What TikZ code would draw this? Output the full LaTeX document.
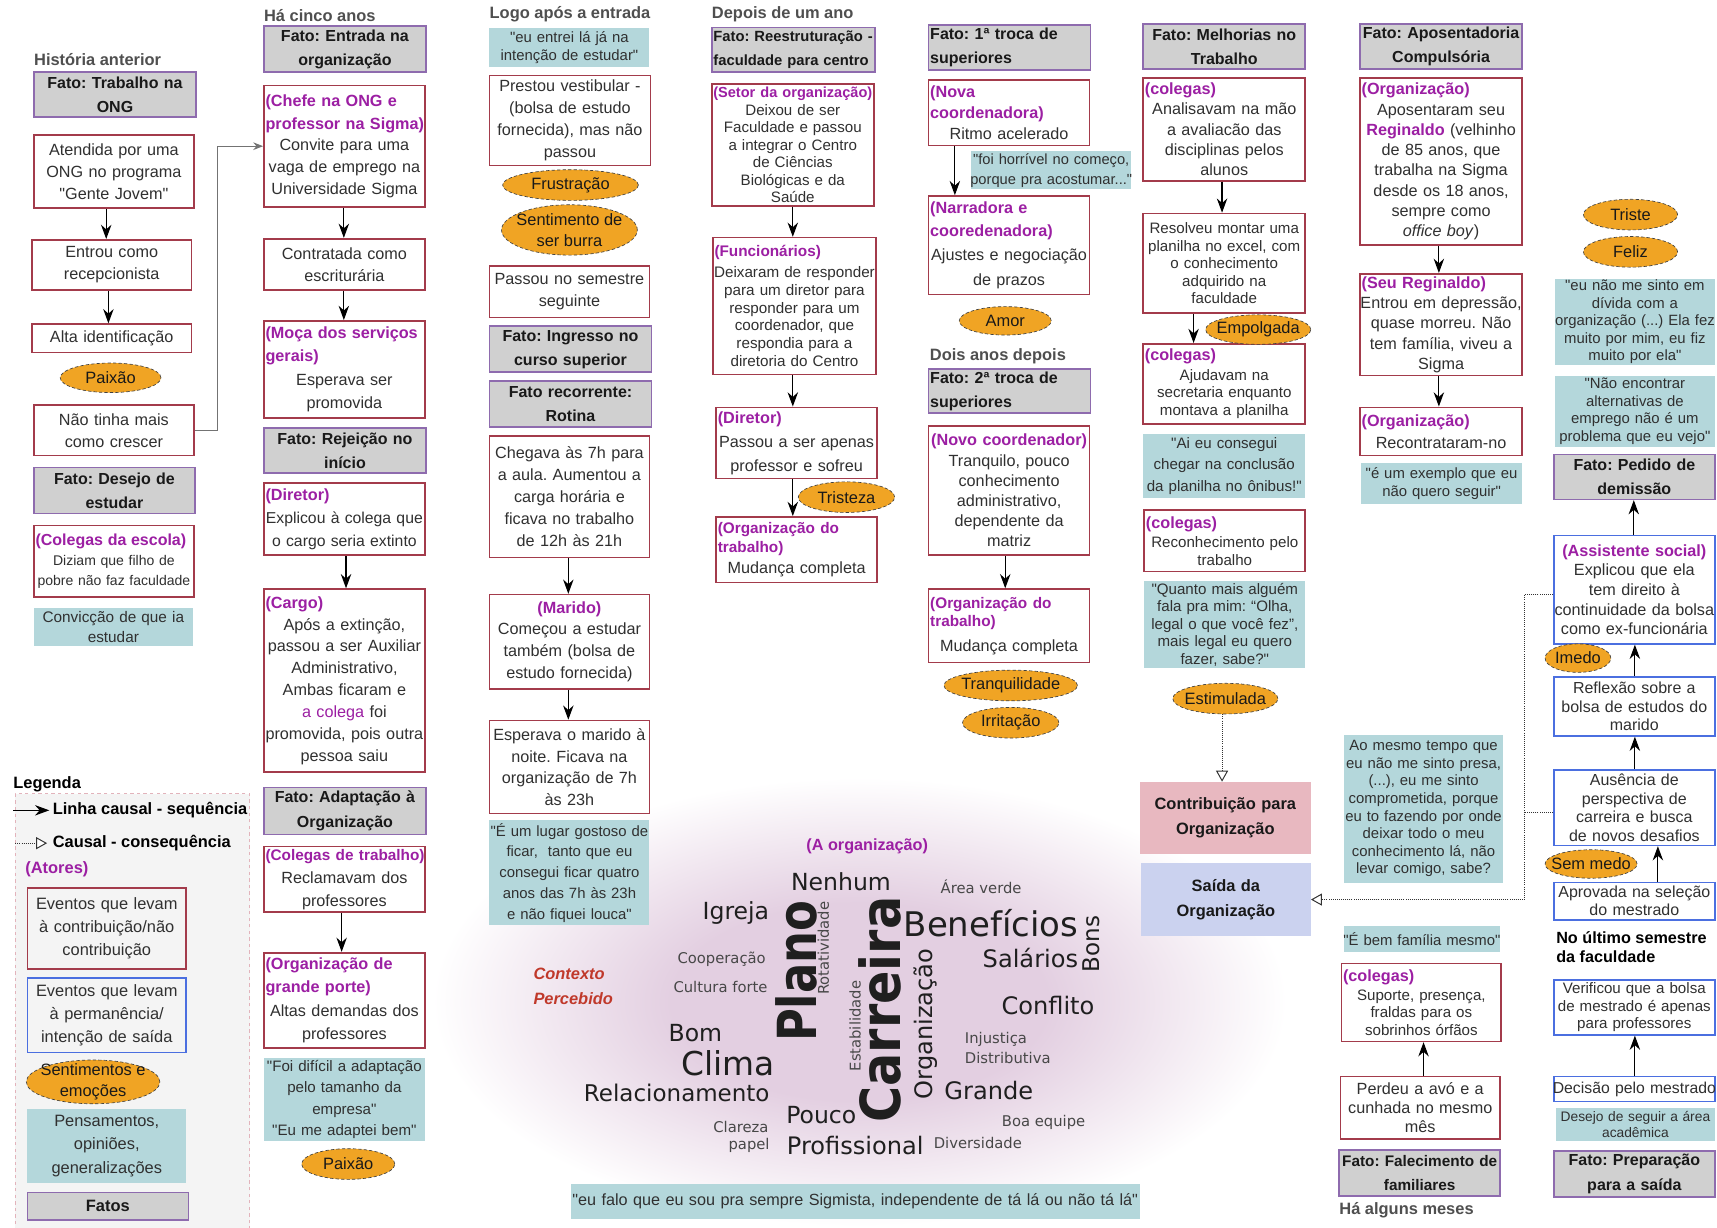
\documentclass[tikz,border=0pt]{standalone}
\usepackage{fontspec}
\setmainfont{Liberation Sans}[Ligatures=TeXOff]
\newfontfamily\cloudfont{DejaVu Sans}
\usetikzlibrary{arrows.meta,shapes.geometric}
\frenchspacing
\definecolor{evred}{HTML}{A33B4B}
\definecolor{evblue}{HTML}{4B6FE0}
\definecolor{fatogray}{HTML}{D0D0D0}
\definecolor{fatoline}{HTML}{8E6BAE}
\definecolor{quotebg}{HTML}{B4D7DB}
\definecolor{feelor}{HTML}{F0A424}
\definecolor{actor}{HTML}{9C1FA3}
\definecolor{labgray}{HTML}{4F4F4F}
\definecolor{contribpink}{HTML}{E8B8C0}
\definecolor{saidablue}{HTML}{CBD2EF}
\definecolor{cloudpink}{HTML}{E3CFE1}
\definecolor{legbg}{HTML}{F4F4F4}
\definecolor{legline}{HTML}{E2B3BB}
\definecolor{ctxred}{HTML}{C0392B}
\definecolor{txt}{HTML}{303030}
\pgfdeclareradialshading{cloudsh}{\pgfpoint{0bp}{0bp}}{color(0bp)=(cloudpink);color(11bp)=(cloudpink);color(25bp)=(white);color(50bp)=(white)}
\newcommand\fsz[2]{\fontsize{#1}{#2}\selectfont}
\newcommand\act[2][14.8]{{\raggedright\leftskip=11.5pt\color{actor}\bfseries\fontsize{#1}{21}\selectfont #2\par}}
\newcommand\actc[2][14.8]{{\centering\color{actor}\bfseries\fontsize{#1}{21}\selectfont #2\par}}
\newcommand\lft[1]{{\raggedright\leftskip=11.5pt #1\par}}
\newcommand\Bx[7]{%
  \pgfmathsetmacro\bxw{#5-#3}%
  \pgfmathsetmacro\bxh{#6-#4}%
  \pgfmathsetmacro\bxcx{(#3+#5)/2}%
  \pgfmathsetmacro\bxcy{(#4+#6)/2}%
  \pgfmathsetmacro\bxtw{#5-#3+20}%
  \node[#2,minimum width=\bxw pt,minimum height=\bxh pt,text width=\bxtw pt] (#1) at (\bxcx,\bxcy) {#7};}
\newcommand\feel[6]{%
  \node[feelsh,ellipse,minimum width=#4pt,minimum height=#5pt,inner sep=0pt] (#1) at (#2,#3) {};
  \node[feeltxt] (#1t) at (#1.center) {#6};}
\begin{document}
\begin{tikzpicture}[x=1pt,y=-1pt,
  ev/.style={draw=evred,line width=1.5pt,fill=white,align=center,inner xsep=-10pt,inner ysep=0pt,text=txt,font=\fsz{14.8}{20}},
  evb/.style={ev,draw=evblue},
  fato/.style={draw=fatoline,fill=fatogray,line width=1.5pt,align=center,inner xsep=-10pt,inner ysep=0pt,text=black!90,font=\bfseries\fsz{14.6}{22}},
  qt/.style={fill=quotebg,align=center,inner xsep=-10pt,inner ysep=0pt,text=txt,font=\fsz{13.8}{19.5}},
  feelsh/.style={fill=feelor,draw=black!75,line width=0.6pt,densely dashed},
  feeltxt/.style={align=center,inner sep=0pt,text=black!90,font=\fsz{15}{19}},
  lbl/.style={anchor=west,inner sep=0pt,text=labgray,font=\bfseries\fsz{15}{18}},
  cw/.style={inner sep=0pt,text=black!88},
  cs/.style={inner sep=0pt,text=black!72,font=\cloudfont\fsz{13.5}{14}},
  arr/.style={draw=black,line width=1.1pt,-{Stealth[length=13pt,width=9.5pt]}},
  garr/.style={draw=black!55,line width=1pt,-{Stealth[length=9pt,width=7pt]}},
  darr/.style={draw=black!80,line width=0.9pt,densely dotted,-{Triangle[open,length=10pt,width=11pt,fill=white]}},
  dline/.style={draw=black!80,line width=0.9pt,densely dotted}]
\useasboundingbox (0,0) rectangle (1568,1121);
\fill[white] (0,0) rectangle (1568,1121);

% ---------- word cloud background ----------
\shade[shading=cloudsh] (785,915) ellipse [x radius=390pt, y radius=205pt];

% ---------- legend ----------
\node[lbl,text=black] (leglbl) at (12,716) {Legenda};
\Bx{legbox}{draw=legline,dashed,fill=legbg,line width=1pt,inner xsep=-10pt}{14}{725}{228}{1125}{}
\coordinate (la1) at (12,740); \coordinate (la2) at (45,740);
\draw[arr] (la1) -- (la2);
\node[lbl,text=black] (legt1) at (48,740) {Linha causal - sequência};
\coordinate (lb1) at (14,770); \coordinate (lb2) at (43,770);
\draw[darr] (lb1) -- (lb2);
\node[lbl,text=black] (legt2) at (48,770) {Causal - consequência};
\node[lbl,text=actor] (legat) at (23,794) {(Atores)};
\Bx{lg1}{ev,fill=legbg,font=\fsz{15}{21}}{25}{811}{170}{885}{Eventos que levam\\à contribuição/não\\contribuição}
\Bx{lg2}{evb,fill=legbg,font=\fsz{15}{21}}{25}{893}{170}{961}{Eventos que levam\\à permanência/\\intenção de saída}
\Bx{lg4}{qt,font=\fsz{15}{21.5}}{25}{1013}{170}{1080}{Pensamentos,\\opiniões,\\generalizações}
\Bx{lg5}{fato,font=\bfseries\fsz{15}{18}}{25}{1089}{172}{1114}{Fatos}

% ---------- column 1 ----------
\node[lbl] (lab1) at (31,54) {História anterior};
\Bx{f1}{fato}{31}{66}{179}{107}{Fato: Trabalho na\\ONG}
\Bx{atendida}{ev}{31}{123}{177}{190}{Atendida por uma\\ONG no programa\\"Gente Jovem"}
\Bx{entrou}{ev}{29}{219}{175}{265}{Entrou como\\recepcionista}
\Bx{alta}{ev}{29}{296}{175}{322}{Alta identificação}
\Bx{naotinha}{ev}{31}{370}{177}{416}{Não tinha mais\\como crescer}
\Bx{f2}{fato}{31}{427}{178}{469}{Fato: Desejo de\\estudar}
\Bx{colescola}{ev,font=\fsz{12.8}{18}}{31}{480}{177}{545}{\act[14.6]{(Colegas da escola)}Diziam que filho de\\pobre não faz faculdade}
\Bx{conv}{qt,font=\fsz{14}{18}}{31}{555}{176}{590}{Convicção de que ia\\estudar}

% ---------- column 2 ----------
\node[lbl] (lab2) at (241,14) {Há cinco anos};
\Bx{f3}{fato}{241}{24}{389}{66}{Fato: Entrada na\\organização}
\Bx{chefe}{ev}{241}{78}{388}{189}{\act{(Chefe na ONG e\\professor na Sigma)}Convite para uma\\vaga de emprego na\\Universidade Sigma}
\Bx{contrat}{ev}{241}{218}{388}{265}{Contratada como\\escriturária}
\Bx{moca}{ev,font=\fsz{14.8}{21.5}}{241}{293}{388}{382}{\act{(Moça dos serviços\\gerais)}Esperava ser\\promovida}
\Bx{f4}{fato}{241}{391}{389}{432}{Fato: Rejeição no\\início}
\Bx{diretor1}{ev,font=\fsz{14.4}{21}}{241}{441}{388}{507}{\act{(Diretor)}Explicou à colega que\\o cargo seria extinto}
\Bx{cargo}{ev}{241}{538}{388}{705}{\act{(Cargo)}Após a extinção,\\passou a ser Auxiliar\\Administrativo,\\Ambas ficaram e\\{\color{actor}a colega} foi\\promovida, pois outra\\pessoa saiu}
\Bx{f5}{fato}{241}{719}{389}{762}{Fato: Adaptação à\\Organização}
\Bx{colt}{ev,font=\fsz{14.8}{21}}{241}{773}{388}{833}{\act[14]{(Colegas de trabalho)}Reclamavam dos\\professores}
\Bx{orgg}{ev,font=\fsz{14.8}{21.5}}{241}{870}{388}{957}{\act{(Organização de\\grande porte)}Altas demandas dos\\professores}
\Bx{q1}{qt}{241}{966}{388}{1042}{"Foi difícil a adaptação\\pelo tamanho da\\empresa"\\"Eu me adaptei bem"}

% ---------- column 3 ----------
\node[lbl] (lab3) at (447,13) {Logo após a entrada};
\Bx{q2}{qt,font=\fsz{13.6}{17}}{447}{26}{593}{61}{"eu entrei lá já na\\intenção de estudar"}
\Bx{prestou}{ev}{447}{69}{594}{151}{Prestou vestibular -\\(bolsa de estudo\\fornecida), mas não\\passou}
\Bx{passou}{ev}{447}{243}{593}{290}{Passou no semestre\\seguinte}
\Bx{f6}{fato}{447}{298}{595}{340}{Fato: Ingresso no\\curso superior}
\Bx{f7}{fato}{447}{348}{595}{390}{Fato recorrente:\\Rotina}
\Bx{chegava}{ev}{447}{398}{593}{509}{Chegava às 7h para\\a aula. Aumentou a\\carga horária e\\ficava no trabalho\\de 12h às 21h}
\Bx{marido}{ev}{447}{543}{593}{629}{\actc{(Marido)}Começou a estudar\\também (bolsa de\\estudo fornecida)}
\Bx{esperava}{ev}{447}{658}{593}{743}{Esperava o marido à\\noite. Ficava na\\organização de 7h\\às 23h}
\Bx{q3}{qt,font=\fsz{13.6}{19}}{447}{749}{593}{845}{"É um lugar gostoso de\\ficar,~ tanto que eu\\consegui ficar quatro\\anos das 7h às 23h\\e não fiquei louca"}

% ---------- column 4 ----------
\node[lbl] (lab4) at (650,13) {Depois de um ano};
\Bx{f8}{fato,font=\bfseries\fsz{13.5}{22}}{650}{25}{799}{66}{\lft{Fato: Reestruturação -\\faculdade para centro}}
\Bx{setor}{ev,font=\fsz{13.8}{16}}{650}{77}{798}{188}{\actc[13.3]{(Setor da organização)}Deixou de ser\\Faculdade e passou\\a integrar o Centro\\de Ciências\\Biológicas e da\\Saúde}
\Bx{func}{ev,font=\fsz{13.9}{16.2}}{651}{217}{800}{342}{\act[14]{(Funcionários)}\vspace{3pt}Deixaram de responder\\para um diretor para\\responder para um\\coordenador, que\\respondia para a\\diretoria do Centro}
\Bx{dir2}{ev,font=\fsz{14.8}{22}}{654}{372}{801}{437}{\act{(Diretor)}Passou a ser apenas\\professor e sofreu}
\Bx{orgtrab1}{ev,font=\fsz{14.8}{19}}{654}{472}{801}{532}{\act[14]{(Organização do\\[-4pt]trabalho)}Mudança completa}

% ---------- column 5 ----------
\Bx{f9}{fato}{848}{23}{996}{64}{\lft{Fato: 1ª troca de\\superiores}}
\Bx{nova}{ev,font=\fsz{14.8}{19}}{848}{73}{995}{133}{\act{(Nova\\[-2pt]coordenadora)}Ritmo acelerado}
\Bx{q4}{qt,font=\fsz{13.4}{18}}{887}{138}{1033}{173}{"foi horrível no começo,\\porque pra acostumar..."}
\Bx{narr}{ev,font=\fsz{14.8}{22}}{848}{179}{995}{269}{\act{(Narradora e\\cooredenadora)}Ajustes e negociação\\de prazos}
\node[lbl] (lab5) at (849,325) {Dois anos depois};
\Bx{f10}{fato}{848}{337}{996}{377}{\lft{Fato: 2ª troca de\\superiores}}
\Bx{novo}{ev,font=\fsz{14.8}{18.4}}{848}{389}{995}{507}{\actc{(Novo coordenador)}Tranquilo, pouco\\conhecimento\\administrativo,\\dependente da\\matriz}
\Bx{orgtrab2}{ev,font=\fsz{14.8}{22}}{848}{538}{995}{605}{\act[14]{(Organização do\\[-4pt]trabalho)}Mudança completa}

% ---------- column 6 ----------
\Bx{f11}{fato}{1044}{22}{1192}{63}{Fato: Melhorias no\\Trabalho}
\Bx{col1}{ev,font=\fsz{14.8}{18.4}}{1044}{71}{1192}{165}{\act{(colegas)}Analisavam na mão\\a avaliacão das\\disciplinas pelos\\alunos}
\Bx{resolveu}{ev,font=\fsz{13.8}{16}}{1044}{195}{1192}{286}{Resolveu montar uma\\planilha no excel, com\\o conhecimento\\adquirido na\\faculdade}
\Bx{col2}{ev,font=\fsz{13.8}{16}}{1044}{314}{1192}{387}{\act{(colegas)}\vspace{2pt}Ajudavam na\\secretaria enquanto\\montava a planilha}
\Bx{q5}{qt}{1044}{396}{1192}{455}{"Ai eu consegui\\chegar na conclusão\\da planilha no ônibus!"}
\Bx{col3}{ev,font=\fsz{13.8}{16}}{1045}{466}{1192}{522}{\act{(colegas)}\vspace{2pt}Reconhecimento pelo\\trabalho}
\Bx{q6}{qt,font=\fsz{13.8}{16}}{1045}{531}{1192}{610}{"Quanto mais alguém\\fala pra mim: “Olha,\\legal o que você fez”,\\mais legal eu quero\\fazer, sabe?"}
\Bx{contrib}{fill=contribpink,align=center,inner xsep=-10pt,text=black!90,font=\bfseries\fsz{15}{23}}{1041}{714}{1197}{780}{Contribuição para\\Organização}
\Bx{saida}{fill=saidablue,align=center,inner xsep=-10pt,text=black!90,font=\bfseries\fsz{15}{23}}{1042}{788}{1197}{855}{Saída da\\Organização}

% ---------- column 7 ----------
\Bx{f12}{fato}{1242}{22}{1390}{63}{Fato: Aposentadoria\\Compulsória}
\Bx{org1}{ev,font=\fsz{14.8}{18.5}}{1242}{71}{1390}{224}{\act{(Organização)}Aposentaram seu\\{\color{actor}\bfseries Reginaldo} (velhinho\\de 85 anos, que\\trabalha na Sigma\\desde os 18 anos,\\sempre como\\\textit{office boy})}
\Bx{seureg}{ev,font=\fsz{14.8}{18.5}}{1242}{250}{1390}{343}{\act{(Seu Reginaldo)}Entrou em depressão,\\quase morreu. Não\\tem família, viveu a\\Sigma}
\Bx{org2}{ev,font=\fsz{14.8}{20}}{1242}{372}{1390}{416}{\act{(Organização)}Recontrataram-no}
\Bx{q7}{qt,font=\fsz{13.6}{16}}{1243}{423}{1390}{460}{"é um exemplo que eu\\não quero seguir"}
\Bx{q8}{qt,font=\fsz{13.6}{16}}{1227}{671}{1373}{806}{Ao mesmo tempo que\\eu não me sinto presa,\\(...), eu me sinto\\comprometida, porque\\eu to fazendo por onde\\deixar todo o meu\\conhecimento lá, não\\levar comigo, sabe?}
\Bx{q9}{qt,font=\fsz{13.6}{16}}{1227}{846}{1370}{869}{"É bem família mesmo"}
\Bx{col4}{ev,font=\fsz{13.8}{16}}{1225}{880}{1371}{951}{\act{(colegas)}\vspace{1pt}Suporte, presença,\\fraldas para os\\sobrinhos órfãos}
\Bx{perdeu}{ev,font=\fsz{14.8}{17}}{1224}{983}{1370}{1040}{Perdeu a avó e a\\cunhada no mesmo\\mês}
\Bx{f13}{fato,font=\bfseries\fsz{14}{22}}{1223}{1050}{1370}{1092}{Fato: Falecimento de\\familiares}
\node[lbl] (lab7) at (1223,1105) {Há alguns meses};

% ---------- column 8 ----------
\Bx{q10}{qt,font=\fsz{13.6}{16}}{1420}{255}{1566}{333}{"eu não me sinto em\\dívida com a\\organização (...) Ela fez\\muito por mim, eu fiz\\muito por ela"}
\Bx{q11}{qt,font=\fsz{13.6}{16}}{1420}{343}{1566}{408}{"Não encontrar\\alternativas de\\emprego não é um\\problema que eu vejo"}
\Bx{f14}{fato}{1419}{415}{1566}{456}{Fato: Pedido de\\demissão}
\Bx{assist}{evb,font=\fsz{14.8}{18}}{1419}{489}{1566}{588}{\actc{(Assistente social)}Explicou que ela\\tem direito à\\continuidade da bolsa\\como ex-funcionária}
\Bx{reflex}{evb,font=\fsz{14.6}{17}}{1419}{618}{1566}{672}{Reflexão sobre a\\bolsa de estudos do\\marido}
\Bx{ausen}{evb,font=\fsz{14.6}{17}}{1419}{703}{1566}{772}{Ausência de\\perspectiva de\\carreira e busca\\de novos desafios}
\Bx{aprov}{evb,font=\fsz{14.6}{16.5}}{1419}{806}{1566}{840}{Aprovada na seleção\\do mestrado}
\node[lbl,text=black,align=left,font=\bfseries\fsz{14.8}{18}] (lab8) at (1421,865) {No último semestre\\da faculdade};
\Bx{verif}{evb,font=\fsz{13.8}{16}}{1419}{895}{1566}{945}{Verificou que a bolsa\\de mestrado é apenas\\para professores}
\Bx{decis}{evb,font=\fsz{14.4}{16}}{1419}{983}{1566}{1006}{Decisão pelo mestrado}
\Bx{q12}{qt,font=\fsz{12.6}{14}}{1421}{1012}{1566}{1042}{Desejo de seguir a área\\acadêmica}
\Bx{f15}{fato}{1419}{1051}{1566}{1093}{Fato: Preparação\\para a saída}

% ---------- word cloud ----------
\node[text=actor,inner sep=0pt,font=\bfseries\fsz{14.8}{18}] (aorg) at (792,773) {(A organização)};
\node[anchor=west,align=left,inner sep=0pt,text=ctxred,font=\bfseries\itshape\fsz{15}{23}] (ctx) at (487,901) {Contexto\\Percebido};
\node[cw,font=\cloudfont\fsz{21.5}{22}] (wnenhum) at (768,805) {Nenhum};
\node[cs] (warea) at (896,810) {Área verde};
\node[cw,font=\cloudfont\fsz{21.5}{22}] (wigreja) at (672,834) {Igreja};
\node[cw,font=\cloudfont\fsz{31}{31}] (wbenef) at (905,843) {Benefícios};
\node[cs] (wcoop) at (659,876) {Cooperação};
\node[cw,font=\cloudfont\fsz{22}{22}] (wsal) at (941,875) {Salários};
\node[cs] (wcult) at (658,901) {Cultura forte};
\node[cw,font=\cloudfont\fsz{22}{22}] (wconf) at (957,918) {Conflito};
\node[cw,font=\cloudfont\fsz{21.5}{22}] (wbom) at (635,943) {Bom};
\node[cs,anchor=west] (winj) at (881,949) {Injustiça};
\node[cs,anchor=west] (wdist) at (881,966) {Distributiva};
\node[cw,font=\cloudfont\fsz{30}{30}] (wclima) at (665,971) {Clima};
\node[cw,font=\cloudfont\fsz{21}{22}] (wrel) at (618,998) {Relacionamento};
\node[cw,font=\cloudfont\fsz{22}{22}] (wgrande) at (903,996) {Grande};
\node[cw,font=\cloudfont\fsz{21.5}{22}] (wpouco) at (750,1018) {Pouco};
\node[cs] (wboa) at (953,1025) {Boa equipe};
\node[cs,anchor=east] (wclar) at (702,1029) {Clareza};
\node[cs,anchor=east] (wpapel) at (703,1046) {papel};
\node[cw,font=\cloudfont\fsz{22}{22}] (wprof) at (781,1046) {Profissional};
\node[cs] (wdiv) at (893,1044) {Diversidade};
\node[cw,rotate=90,yscale=1.2,font=\cloudfont\bfseries\fsz{41}{41}] (wplano) at (727,887) {Plano};
\node[cs,rotate=90] (wrot) at (752,866) {Rotatividade};
\node[cw,rotate=90,yscale=1.12,font=\cloudfont\bfseries\fsz{45}{45}] (wcarr) at (804,922) {Carreira};
\node[cs,rotate=90] (westab) at (781,937) {Estabilidade};
\node[cw,rotate=90,font=\cloudfont\fsz{22}{22}] (worg) at (845,935) {Organização};
\node[cw,rotate=90,font=\cloudfont\fsz{21}{22}] (wbons) at (997,862) {Bons};
\Bx{q13}{qt,font=\fsz{14.8}{18}}{521}{1081}{1041}{1113}{"eu falo que eu sou pra sempre Sigmista, independente de tá lá ou não tá lá"}

% ---------- feelings ----------
\feel{lg3}{85}{988}{122}{40}{Sentimentos e\\emoções}
\feel{paixao1}{101}{345}{92}{27}{Paixão}
\feel{paixao2}{318}{1063}{85}{28}{Paixão}
\feel{frustr}{521}{169}{124}{28}{Frustração}
\feel{burra}{520}{210}{124}{46}{Sentimento de\\ser burra}
\feel{trist}{773}{454}{88}{28}{Tristeza}
\feel{amor}{918}{293}{84}{26}{Amor}
\feel{tranq}{923}{626}{122}{28}{Tranquilidade}
\feel{irrit}{923}{660}{88}{28}{Irritação}
\feel{empolg}{1149}{301}{96}{27}{Empolgada}
\feel{estim}{1119}{638}{96}{28}{Estimulada}
\feel{triste}{1489}{196}{86}{28}{Triste}
\feel{feliz}{1489}{230}{86}{28}{Feliz}
\feel{imedo}{1441}{601}{60}{26}{Imedo}
\feel{semmedo}{1453}{789}{84}{26}{Sem medo}

% ---------- connectors ----------
\draw[arr] (atendida.south -| 97,0) -- (entrou.north -| 97,0);
\draw[arr] (entrou.south -| 99,0) -- (alta.north -| 99,0);
\draw[garr] (naotinha.east) -- ++(21,0) |- (chefe.west);
\draw[arr] (chefe.south -| 314,0) -- (contrat.north -| 314,0);
\draw[arr] (contrat.south -| 314,0) -- (moca.north -| 314,0);
\draw[arr] (diretor1.south -| 316,0) -- (cargo.north -| 316,0);
\draw[arr] (colt.south -| 312,0) -- (orgg.north -| 312,0);
\draw[arr] (chegava.south -| 519,0) -- (marido.north -| 519,0);
\draw[arr] (marido.south -| 519,0) -- (esperava.north -| 519,0);
\draw[arr] (setor.south -| 724,0) -- (func.north -| 724,0);
\draw[arr] (func.south -| 724,0) -- (dir2.north -| 724,0);
\draw[arr] (dir2.south -| 724,0) -- (orgtrab1.north -| 724,0);
\draw[arr] (nova.south -| 872,0) -- (narr.north -| 872,0);
\draw[arr] (novo.south -| 918,0) -- (orgtrab2.north -| 918,0);
\draw[arr] (col1.south -| 1116,0) -- (resolveu.north -| 1116,0);
\draw[arr] (resolveu.south -| 1090,0) -- (col2.north -| 1090,0);
\draw[darr] (estim.south -| 1116,0) -- (contrib.north -| 1116,0);
\draw[arr] (org1.south -| 1314,0) -- (seureg.north -| 1314,0);
\draw[arr] (seureg.south -| 1314,0) -- (org2.north -| 1314,0);
\draw[arr] (perdeu.north -| 1300,0) -- (col4.south -| 1300,0);
\draw[arr] (assist.north -| 1492,0) -- (f14.south -| 1492,0);
\draw[arr] (reflex.north -| 1493,0) -- (assist.south -| 1493,0);
\draw[arr] (ausen.north -| 1493,0) -- (reflex.south -| 1493,0);
\draw[arr] (aprov.north -| 1514,0) -- (ausen.south -| 1514,0);
\draw[arr] (decis.north -| 1493,0) -- (verif.south -| 1493,0);
\draw[darr] (assist.west |- 0,543) -- ++(-26,0) |- (saida.east);
\draw[dline] (ausen.west |- 0,742) -- ++(-26,0);
\end{tikzpicture}
\end{document}
